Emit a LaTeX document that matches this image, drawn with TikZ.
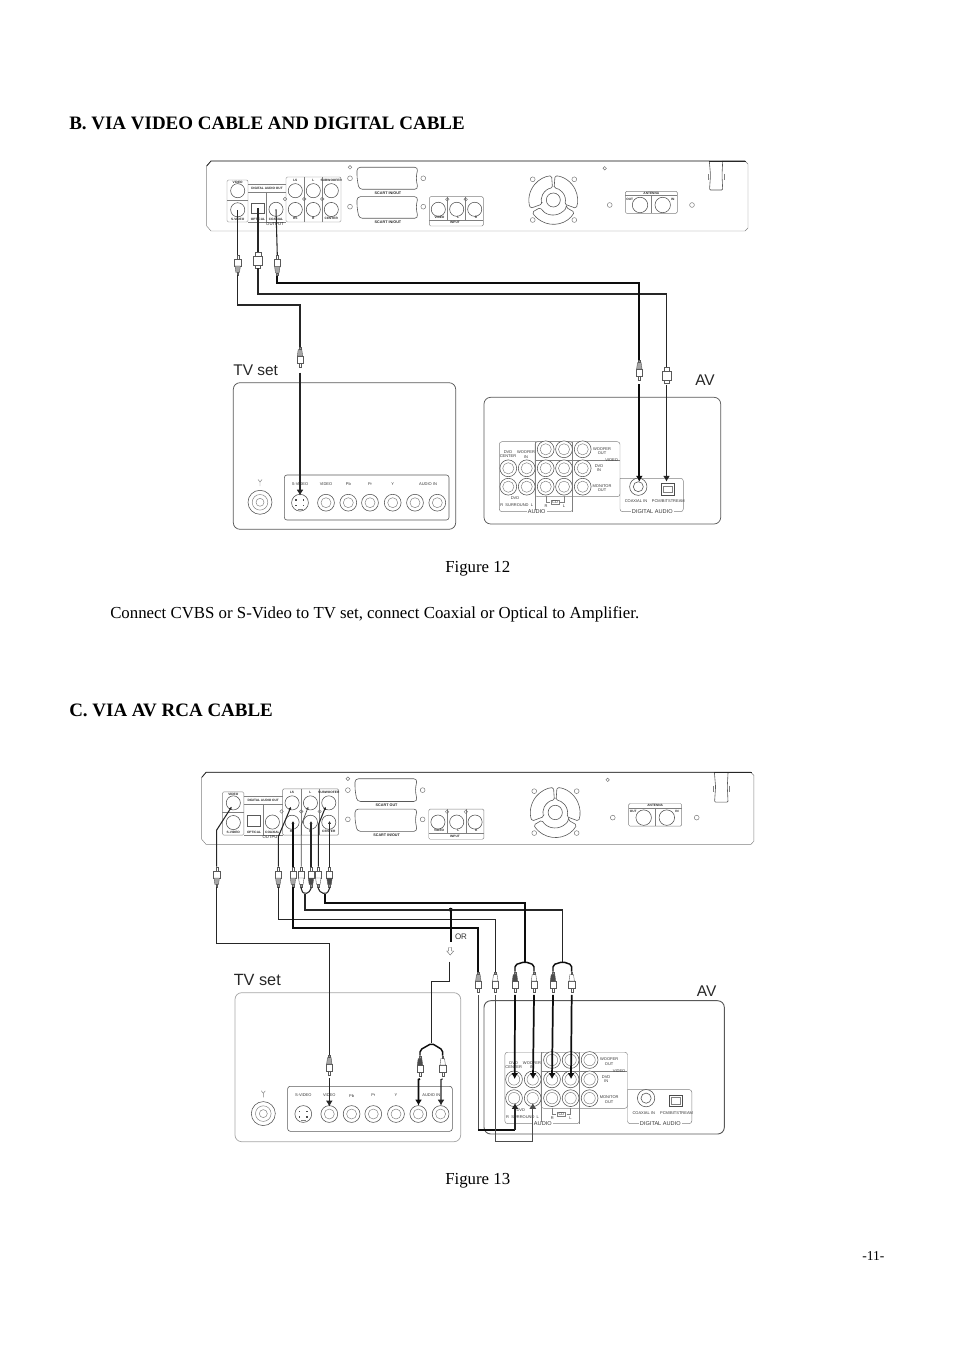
\documentclass[tikz,border=0pt]{standalone}
\usepackage{fontspec}
\setmainfont{Liberation Serif}
\newfontfamily\arialf{Liberation Sans}
\usetikzlibrary{arrows.meta}
\tikzset{
  pageline/.style={draw=black!65,line width=0.45pt},
  lightline/.style={draw=black!50,line width=0.35pt},
  hole/.style={circle,draw=black!55,line width=0.35pt,minimum size=3.6pt,inner sep=0pt},
  rport/.style={circle,draw=black!70,line width=0.4pt,minimum size=10.6pt,inner sep=0pt},
  port/.style={circle,draw=black!70,fill=white,line width=0.4pt,minimum size=12.6pt,inner sep=0pt},
  lab/.style={inner sep=0pt,align=center,text=black!80,font=\arialf\fontsize{3}{3.8}\selectfont},
  labb/.style={inner sep=0pt,align=center,text=black!85,font=\arialf\bfseries\fontsize{2.4}{3}\selectfont},
  sect/.style={inner sep=0pt,text=black!80,font=\arialf\fontsize{4.2}{5}\selectfont,fill=white,inner xsep=1pt},
  big/.style={inner sep=0pt,font=\arialf\fontsize{11.6}{13}\selectfont,text=black!85},
  heading/.style={inner sep=0pt,anchor=mid west,font=\bfseries\fontsize{14.23}{16}\selectfont},
  body/.style={inner sep=0pt,anchor=mid west,font=\fontsize{12.62}{14}\selectfont},
  plugbox/.style={rectangle,minimum width=4.9pt,minimum height=15pt,inner sep=0pt},
  optbox/.style={rectangle,minimum width=7.5pt,minimum height=12pt,inner sep=0pt},
  plugline/.style={draw=black!65,line width=0.3pt},
  cable/.style={draw=black!85,line width=0.8pt},
  fatcable/.style={draw=black!95,line width=1.3pt},
  thincable/.style={draw=black!70,line width=0.55pt},
  tip/.style={-{Latex[length=4.4pt,width=5.2pt]}},
  smalltip/.style={-{Latex[length=2.2pt,width=2.4pt]}}
}
% name, x, y, direction (1 tip up, -1 tip down), grip colour
\newcommand{\rca}[5]{%
  \node[plugbox] (#1) at (#2,#3) {};
  \begin{scope}[shift={(#2,#3)},yscale=#4]
    \draw[plugline,fill=white] (-1,-10) rectangle (1,-6);
    \draw[plugline,fill=white] (-3.1,-6) rectangle (3.1,1);
    \draw[plugline,fill=#5] (-2.7,1)--(2.7,1)--(1.8,7.5)--(-1.8,7.5)--cycle;
    \draw[plugline,fill=black!40] (-0.9,7.5) rectangle (0.9,10);
  \end{scope}}
% optical plug
\newcommand{\optplug}[3]{%
  \node[optbox] (#1) at (#2,#3) {};
  \draw[plugline,fill=white] (#2-2.8,#3-8) rectangle (#2+2.8,#3-4);
  \draw[plugline,fill=white] (#2-4.6,#3-4) rectangle (#2+4.6,#3+5);
  \draw[plugline,fill=white] (#2-2.4,#3+5) rectangle (#2+2.4,#3+8);}
% rear panel of the player, #1 prefix, #2 upper scart label
\newcommand{\rearpanel}[2]{%
  \draw[lightline] (206.7,166)--(211,161)--(745,161)--(748,164)--(748,228)--(745,231)--(211,231)--(206.7,226)--cycle;
  \draw[draw=black!85,line width=0.6pt] (206.7,166)--(211,161)--(745,161);
  % video block
  \draw[lightline,rounded corners=1] (227,180) rectangle (248,222);
  \draw[lightline] (227,200)--(248,200);
  \node[rport] (#1-video) at (237.7,190.7) {};
  \node[rport] (#1-svideo) at (237.7,209.8) {};
  \node[labb] (#1-lv) at (237.7,182.3) {VIDEO};
  \node[labb] (#1-lsv) at (237.7,219.5) {S-VIDEO};
  % digital
  \draw[lightline] (248,184)--(286,184) (248,192)--(286,192) (248,222)--(286,222) (266.7,192)--(266.7,222);
  \node[labb] (#1-ldig) at (267,188) {DIGITAL AUDIO OUT};
  \draw[pageline] (251.7,203) rectangle (264,213);
  \node[inner sep=0pt,minimum size=0pt] (#1-opt) at (258,208) {};
  \node[rport] (#1-coax) at (276,209.3) {};
  \node[labb] (#1-lo) at (258,219) {OPTICAL};
  \node[labb] (#1-lc) at (276,219) {COAXIAL};
  \node[labb,font=\arialf\fontsize{3.2}{4}\selectfont] (#1-lout) at (275,224) {OUTPUT};
  % six channel
  \draw[lightline,rounded corners=1] (286,177) rectangle (341,222);
  \draw[lightline] (304.3,177)--(304.3,222) (322.3,177)--(322.3,222);
  \foreach \nm/\xx/\yy in {ls/295.3/190.7,l/313.3/190.7,sub/331.3/190.7,rs/295.3/209.5,r/313.3/209.5,cen/331.3/209.5}
    {\node[rport] (#1-\nm) at (\xx,\yy) {};}
  \node[hole,minimum size=2.6pt] (#1-h1) at (285,199) {};
  \node[hole,minimum size=2.6pt] (#1-h2) at (304.3,199) {};
  \node[hole,minimum size=2.6pt] (#1-h3) at (322.3,199) {};
  \node[labb] (#1-lls) at (295.3,180.5) {LS};
  \node[labb] (#1-ll) at (313.3,180.5) {L};
  \node[labb] (#1-lsub) at (331.3,180.5) {SUBWOOFER};
  \node[labb] (#1-lrs) at (295.3,218.3) {RS};
  \node[labb] (#1-lr) at (313.3,218.3) {R};
  \node[labb] (#1-lcen) at (331.3,218.3) {CENTER};
  % scart
  \draw[pageline,rounded corners=2.5] (357,167.3)--(418,167.3)--(416,178)--(418,189.3)--(359,189.3)--(357,178)--cycle;
  \draw[pageline,rounded corners=2.5] (357,196.7)--(418,196.7)--(416,207)--(418,218.3)--(359,218.3)--(357,207)--cycle;
  \node[labb,font=\arialf\bfseries\fontsize{2.8}{3}\selectfont] (#1-s1) at (388,192.8) {#2};
  \node[labb,font=\arialf\bfseries\fontsize{2.8}{3}\selectfont] (#1-s2) at (388,221.8) {SCART IN/OUT};
  \node[hole,minimum size=2.8pt] (#1-h4) at (350,167.3) {};
  \node[hole] (#1-h5) at (350,178.3) {};
  \node[hole] (#1-h6) at (423.3,178.3) {};
  \node[hole] (#1-h7) at (350,206.7) {};
  \node[hole] (#1-h8) at (423.3,206.7) {};
  % input
  \draw[lightline,rounded corners=1] (429.3,196.7) rectangle (483.3,226);
  \draw[lightline] (429.3,220)--(483.3,220) (447.3,196.7)--(447.3,220) (465.7,196.7)--(465.7,220);
  \foreach \nm/\xx in {iv/438.3,il/456.7,ir/474.7}{\node[rport] (#1-\nm) at (\xx,209.3) {};}
  \node[hole,minimum size=2.6pt] (#1-h9) at (447.3,199.3) {};
  \node[hole,minimum size=2.6pt] (#1-h10) at (465.7,199.3) {};
  \node[labb] (#1-liv) at (439.5,217.5) {VIDEO};
  \node[labb] (#1-lil) at (458.3,217.5) {L};
  \node[labb] (#1-lir) at (476,217.5) {R};
  \node[labb] (#1-lin) at (455,222.9) {INPUT};
  % fan
  \begin{scope}[shift={(553.3,200)}]
    \draw[pageline,rounded corners=1.2] (160:12)--(160:24.3) arc[start angle=160,end angle=266,radius=24.3]--(266:12) arc[start angle=266,end angle=160,radius=12]--cycle;
    \draw[pageline,rounded corners=1.2] (274:12)--(274:24.3) arc[start angle=274,end angle=380,radius=24.3]--(380:12) arc[start angle=380,end angle=274,radius=12]--cycle;
    \draw[pageline,rounded corners=1.2] (30:15)--(30:24.3) arc[start angle=30,end angle=150,radius=24.3]--(150:15) arc[start angle=150,end angle=30,radius=15]--cycle;
    \draw[pageline] (0,0) circle (7);
  \end{scope}
  \foreach \nm/\xx/\yy in {f1/532.7/179.3,f2/574.3/179.3,f3/532.7/220,f4/574.3/220,f5/609.7/205,f6/692/205}
    {\node[hole] (#1-\nm) at (\xx,\yy) {};}
  \node[hole,minimum size=2.6pt] (#1-f7) at (604.7,168.3) {};
  % antenna
  \draw[lightline,rounded corners=1] (625.3,191.3) rectangle (677.3,213.3);
  \draw[lightline] (625.3,195.4)--(677.3,195.4) (651.3,195.4)--(651.3,213.3);
  \node[rport,minimum size=11.6pt] (#1-aout) at (640,205) {};
  \node[rport,minimum size=11.6pt] (#1-ain) at (662.7,205) {};
  \node[labb] (#1-lant) at (651.3,193.4) {ANTENNA};
  \node[labb] (#1-laout) at (629.7,199) {OUT};
  \node[labb] (#1-lain) at (672.7,199) {IN};
  % bracket
  \draw[pageline,fill=white,rounded corners=0.8] (709.3,161)--(710.5,175)--(709.5,190)--(722.7,190)--(722,175)--(722.7,161);
  \draw[lightline] (708.3,174)--(708.3,180) (724,174)--(724,180);
  \draw[draw=black!85,line width=0.6pt] (709.3,161)--(746,161);
}
% TV input panel in figure 12 coordinates
\newcommand{\tvpanel}[1]{%
  \draw[pageline,rounded corners=2] (284.3,475) rectangle (449,520);
  \draw[lightline] (260,482)--(260,486) (258,479.5)--(260,482)--(262,479.5);
  \node[port,minimum size=18pt] (#1-ant) at (260,502.3) {};
  \draw[lightline] (260,502.3) circle (7.8) (260,502.3) circle (4);
  \node[port] (#1-sv) at (300,502.7) {};
  \foreach \a/\b in {296/500,303.5/500,296/505.5,303.5/505.5}{\fill[black!70] (\a-0.8,\b-0.7) rectangle (\a+0.8,\b+0.7);}
  \draw[lightline] (297.5,509)--(302.5,509);
  \foreach \nm/\xx in {vid/326,pb/348.3,pr/370,y/392.7,al/415,ar/437.3}
    {\node[port] (#1-\nm) at (\xx,502.7) {}; \draw[lightline] (\xx,502.7) circle (5);}
  \node[lab] (#1-l1) at (300,484.3) {S-VIDEO};
  \node[lab] (#1-l2) at (326,484.3) {VIDEO};
  \node[lab] (#1-l3) at (348.3,484.3) {Pb};
  \node[lab] (#1-l4) at (370,484.3) {Pr};
  \node[lab] (#1-l5) at (392.7,484.3) {Y};
  \node[lab] (#1-l6) at (428,484.3) {AUDIO IN};
}
% amplifier panel in figure 12 coordinates
\newcommand{\avpanel}[1]{%
  \draw[lightline,rounded corners=2] (499.3,441.7) rectangle (572.7,511.7);
  \draw[lightline,rounded corners=2] (535,441.7) rectangle (620,496.7);
  \draw[lightline] (535,441.7)--(535,511.7) (535,460)--(620,460) (572.7,441.7)--(572.7,511.7);
  \draw[lightline,rounded corners=2] (620,478.3)--(683.3,478.3)--(683.3,511.7)--(620,511.7)--(620,478.3);
  \foreach \nm/\xx/\yy in {a/545.7/449.3,b/564/449.3,c/582.7/449.3,d/508.3/468.3,e/526.7/468.3,f/545.7/468.3,g/564/468.3,h/582.7/468.3,i/508.3/486.7,j/526.7/486.7,k/545.7/486.7,m/564/486.7,n/582.7/486.7}
    {\node[port] (#1-\nm) at (\xx,\yy) {}; \draw[lightline] (\xx,\yy) circle (5.6);}
  \node[port,minimum size=13pt] (#1-coax) at (638.3,486.7) {};
  \draw[pageline] (638.3,486.7) circle (5);
  \node[draw=black!70,line width=0.4pt,minimum width=9.7pt,minimum height=8.8pt,inner sep=0pt] (#1-opt) at (667.3,489.2) {};
  \draw[lightline] (663,485.8) rectangle (672,492.6);
  \node[lab] (#1-t1) at (508,454.3) {DVD\\[-0.3pt]CENTER};
  \node[lab] (#1-t2) at (526,454.3) {WOOFER\\[-0.3pt]IN};
  \node[lab] (#1-t3) at (602,451) {WOOFER\\[-0.3pt]OUT};
  \node[lab] (#1-t4) at (611.7,460) {VIDEO};
  \node[lab] (#1-t5) at (599,468) {DVD\\[-0.3pt]IN};
  \node[lab] (#1-t6) at (602,488) {MONITOR\\[-0.3pt]OUT};
  \node[lab] (#1-t7) at (515,498.3) {DVD};
  \node[lab] (#1-t8) at (516.7,505) {R \ SURROUND \ L};
  \draw[lightline] (546,496)--(546,502)--(550,502) (560,502)--(564,502)--(564,496);
  \node[lab,draw=black!50,line width=0.3pt,inner xsep=0.8pt,inner ysep=0.4pt] (#1-t9) at (555,502) {CD};
  \node[lab] (#1-t10) at (546,506) {R};
  \node[lab] (#1-t11) at (564,506) {L};
  \node[sect] (#1-t12) at (536.7,511.7) {AUDIO};
  \node[lab] (#1-t13) at (636,501) {COAXIAL IN};
  \node[lab] (#1-t14) at (668.3,501) {PCM/BITSTREAM};
  \node[sect] (#1-t15) at (652.3,511.7) {DIGITAL AUDIO};
}
\begin{document}
\begin{tikzpicture}[x=0.75pt,y=-0.75pt]
\useasboundingbox (0,0) rectangle (954,1351);
% ---------- page text
\node[heading] (hb) at (69,126) {B. VIA VIDEO CABLE AND DIGITAL CABLE};
\node[body] (f12) at (445,569.5) {Figure 12};
\node[body] (par) at (110,615.5) {Connect CVBS or S-Video to TV set, connect Coaxial or Optical to Amplifier.};
\node[heading] (hc) at (69,713) {C. VIA AV RCA CABLE};
\node[body] (f13) at (445,1181.5) {Figure 13};
\node[body,font=\fontsize{10.2}{11}\selectfont] (pg) at (862,1257) {-11-};
% ---------- figure 12 equipment
\rearpanel{a}{SCART IN/OUT}
\node[big] (tv1l) at (255.7,370) {TV set};
\node[big] (av1l) at (705,380.5) {AV};
\draw[pageline,line width=0.55pt,rounded corners=5] (233.3,382.7) rectangle (455.7,529.3);
\draw[pageline,line width=0.55pt,rounded corners=5] (484,397.3) rectangle (720.7,524);
\tvpanel{t}
\avpanel{v}
% ---------- figure 12 plugs and cables
\rca{p1}{237.7}{265}{1}{black!35}
\optplug{p2}{258}{260}
\rca{p3}{277.3}{265.5}{1}{black!35}
\rca{p4}{300}{357}{-1}{black!35}
\rca{p5}{639.3}{370}{-1}{black!35}
\optplug{p6}{666.5}{375}
\draw[cable] (a-svideo.center)--(p1.north);
\draw[cable] (a-opt.center)--(p2.north);
\draw[cable] (a-coax.center)--(p3.north);
\draw[cable] (p1.south)--(237.7,305)--(300,305)--(p4.north);
\draw[cable] (p2.south)--(258,294)--(666.5,294)--(p6.north);
\draw[fatcable] (p3.south)--(277.3,283)--(639.3,283)--(p5.north);
\draw[cable,tip] ([yshift=-4pt]p4.south)--(300,495.5);
\draw[fatcable,tip] ([yshift=-3pt]p5.south)--(639.3,481.7);
\draw[cable,tip] ([yshift=-1pt]p6.south)--(666.5,481.7);
% ---------- figure 13 equipment
\begin{scope}[shift={(201.7,772.3)},xscale=1.02,yscale=1.03,shift={(-206.7,-161)}]
\rearpanel{b}{SCART OUT}
\end{scope}
\node[big,font=\arialf\fontsize{12.2}{13}\selectfont] (tv2l) at (257.3,979.5) {TV set};
\node[big] (av2l) at (706.7,990.7) {AV};
\draw[draw=black!35,line width=0.55pt,rounded corners=5] (235,992.7) rectangle (460.7,1141.7);
\draw[pageline,line width=0.7pt,rounded corners=5] (484,1000.7) rectangle (724.3,1134);
\begin{scope}[shift={(3.3,611.3)}]
\tvpanel{u}
\end{scope}
\begin{scope}[shift={(514,1060)},xscale=1.016,yscale=1.02,shift={(-508.3,-449.3)}]
\avpanel{w}
\end{scope}
% ---------- figure 13 plugs
\rca{q1}{216.7}{877}{1}{black!35}
\rca{q2}{278.3}{877}{1}{black!35}
\rca{q3}{293}{877}{1}{black!35}
\rca{q4}{301.3}{877}{1}{white}
\rca{q5}{311}{877}{1}{black!70}
\rca{q6}{318.3}{877}{1}{white}
\rca{q7}{329.5}{877}{1}{black!70}
\rca{r1}{478.3}{982}{-1}{black!35}
\rca{r2}{495.3}{982}{-1}{white}
\rca{r3}{515}{982}{-1}{black!70}
\rca{r4}{534}{982}{-1}{white}
\rca{r5}{553}{982}{-1}{black!70}
\rca{r6}{571.7}{982}{-1}{white}
\rca{s1}{329.3}{1065}{-1}{black!35}
\rca{s2}{420}{1066}{-1}{black!70}
\rca{s3}{442.7}{1066}{-1}{white}
% junctions
\coordinate (j1) at (305,894.3);
\coordinate (j2) at (325,894.3);
\coordinate (j3) at (525,961.7);
\coordinate (j4) at (562.7,961.7);
\coordinate (j5) at (431.7,1043.3);
\coordinate (d0) at (449.3,961.7);
\node[circle,fill=black,minimum size=3pt,inner sep=0pt] (dot) at (450.7,909.7) {};
\node[inner sep=0pt,font=\arialf\fontsize{6}{7}\selectfont,text=black!80] (orl) at (461,936.3) {OR};
\draw[draw=black!55,line width=0.35pt] (448.7,947.5)--(451.7,947.5)--(451.7,951)--(453.7,951)--(450.2,955)--(446.7,951)--(448.7,951)--cycle;
% source side up to the panel
\draw[cable,smalltip] (q1.north)--(216.7,830)--(231.7,806.7);
\draw[cable,smalltip] (q2.north)--(278.3,836.7)--(291,806.7);
\draw[fatcable,smalltip] (q3.north)--(293,821);
\draw[thincable,smalltip] (q4.north)--(301.3,825)--(308.3,806.7);
\draw[cable,smalltip] (q5.north)--(311,821);
\draw[cable,smalltip] (q6.north)--(318.3,825)--(325.7,806.7);
\draw[cable,smalltip] (q7.north)--(329.5,821);
% Y joints at source
\draw[cable,rounded corners=1.5] (q4.south)--(301,890.5)--(j1)--(311,890.5)--(q5.south);
\draw[cable,rounded corners=1.5] (q6.south)--(318.3,890.5)--(j2)--(329.5,890.5)--(q7.south);
% long runs
\draw[cable] (q1.south)--(216.7,943.3)--(329.3,943.3)--(s1.north);
\draw[cable] (q2.south)--(278.3,919.3)--(495.3,919.3)--(r2.north);
\draw[fatcable] (q3.south)--(293,928.3)--(478.3,928.3)--(r1.north);
\draw[cable] (j1)--(305,910)--(562.7,910)--(j4);
\draw[fatcable] (j2)--(325,902.7)--(525,902.7)--(j3);
\draw[fatcable] (dot.center)--(450.7,941.7);
\draw[cable] (d0)--(449.3,981.7)--(431.7,981.7)--(j5);
% Y joints at destinations
\draw[fatcable,line width=1.1pt,rounded corners=1.5] (r3.north)--(515,964.8)--(j3)--(534,964.8)--(r4.north);
\draw[fatcable,line width=1.1pt,rounded corners=1.5] (r5.north)--(553,964.8)--(j4)--(571.7,964.8)--(r6.north);
\draw[fatcable,line width=1.1pt,rounded corners=1.5] (s2.north)--(420,1050)--(j5)--(442.7,1050)--(s3.north);
% into the equipment
\draw[cable,tip] ([yshift=-2pt]s1.south)--(329.3,1106.5);
\draw[fatcable,tip] ([yshift=-2pt]s2.south)--(418.5,1079.5)--(418.5,1105.5);
\draw[cable,tip] ([yshift=-2pt]s3.south)--(441,1079.5)--(441,1105.5);
\draw[fatcable,tip] ([yshift=-2pt]r3.south)--(514.7,1079);
\draw[fatcable,tip] ([yshift=-2pt]r4.south)--(533,1079);
\draw[fatcable,tip] ([yshift=-2pt]r5.south)--(552,1079);
\draw[fatcable,tip] ([yshift=-2pt]r6.south)--(571,1079);
\draw[thincable] ([yshift=-2pt]r1.south)--(478.3,1130);
\draw[fatcable] (478.3,1130)--(515,1130);
\draw[cable,tip] (515,1130)--(515,1103);
\draw[thincable,tip] ([yshift=-2pt]r2.south)--(495.3,1141.7)--(532.8,1141.7)--(532.8,1103);
\end{tikzpicture}
\end{document}
